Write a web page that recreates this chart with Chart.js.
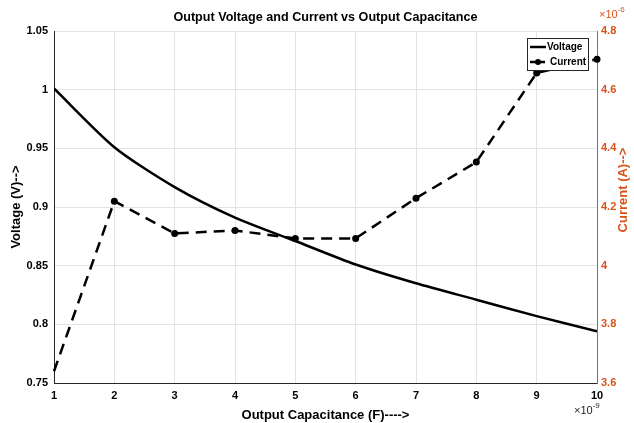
<!DOCTYPE html>
<html>
<head>
<meta charset="utf-8">
<script src="https://cdn.jsdelivr.net/npm/chart.js@4"></script>
<style>
  html, body { margin: 0; padding: 0; background: #fff; }
  #wrap { width: 634px; height: 423px; }
</style>
</head>
<body>
<div id="wrap"><canvas id="chart"></canvas></div>
<script>
// Capacitance in units of 1e-9 F
const capacitance = [1, 2, 3, 4, 5, 6, 7, 8, 9, 10];
// Output voltage (V)
const voltage = [1.001, 0.951, 0.917, 0.891, 0.871, 0.851, 0.835, 0.821, 0.807, 0.794];
// Output current in units of 1e-6 A
const current = [3.64, 4.22, 4.11, 4.12, 4.093, 4.093, 4.23, 4.353, 4.657, 4.704];

const xTicks = [1, 2, 3, 4, 5, 6, 7, 8, 9, 10];
const voltageTicks = [0.75, 0.8, 0.85, 0.9, 0.95, 1, 1.05];
const currentTicks = [3.6, 3.8, 4, 4.2, 4.4, 4.6, 4.8];

const ORANGE = '#D95319';
const FONT = 'Liberation Sans, Arial, sans-serif';

// title, right axis title, exponent labels and inset legend
const decorations = {
  id: 'decorations',
  afterDraw(chart) {
    const { ctx, chartArea: a } = chart;
    ctx.save();
    ctx.fillStyle = '#000';
    ctx.font = 'bold 12.6px ' + FONT;
    ctx.textAlign = 'center';
    ctx.textBaseline = 'middle';
    ctx.fillText('Output Voltage and Current vs Output Capacitance', (a.left + a.right) / 2, 18);

    // right axis title reads bottom to top, like MATLAB
    ctx.save();
    ctx.translate(623, 190);
    ctx.rotate(-Math.PI / 2);
    ctx.font = 'bold 13px ' + FONT;
    ctx.fillStyle = ORANGE;
    ctx.fillText('Current (A)-->', 0, 0);
    ctx.restore();

    const drawExp = (x, y, e, color) => {
      ctx.fillStyle = color;
      ctx.textAlign = 'left';
      ctx.textBaseline = 'middle';
      ctx.font = '11px ' + FONT;
      ctx.fillText('\u00d710', x, y);
      const w = ctx.measureText('\u00d710').width;
      ctx.font = '8px ' + FONT;
      ctx.fillText(e, x + w, y - 5);
    };
    drawExp(a.right - 23, 411, '-9', '#262626');
    drawExp(a.right + 2, 15, '-6', ORANGE);

    // legend box
    const lx = 527, ly = 38, lw = 61, lh = 32;
    ctx.fillStyle = '#fff';
    ctx.fillRect(lx, ly, lw, lh);
    ctx.strokeStyle = '#262626';
    ctx.lineWidth = 1;
    ctx.strokeRect(lx + 0.5, ly + 0.5, lw, lh);
    ctx.font = 'bold 10px ' + FONT;
    ctx.fillStyle = '#000';
    ctx.textAlign = 'left';
    ctx.strokeStyle = '#000';
    ctx.lineWidth = 2.5;
    ctx.beginPath();
    ctx.moveTo(lx + 3, ly + 9);
    ctx.lineTo(lx + 19, ly + 9);
    ctx.stroke();
    ctx.fillText('Voltage', lx + 20, ly + 9);
    ctx.beginPath();
    ctx.moveTo(lx + 3, ly + 24);
    ctx.lineTo(lx + 9, ly + 24);
    ctx.moveTo(lx + 12, ly + 24);
    ctx.lineTo(lx + 18, ly + 24);
    ctx.stroke();
    ctx.beginPath();
    ctx.arc(lx + 11, ly + 24, 3, 0, Math.PI * 2);
    ctx.fill();
    ctx.fillText('Current', lx + 23, ly + 24);
    ctx.restore();
  }
};

const fmt = v => String(+Number(v).toFixed(2));

new Chart(document.getElementById('chart'), {
  type: 'line',
  data: {
    datasets: [{
      label: 'Voltage',
      data: capacitance.map((c, i) => ({ x: c, y: voltage[i] })),
      yAxisID: 'y',
      borderColor: '#000',
      borderWidth: 2.5,
      pointRadius: 0,
      tension: 0.25,
      fill: false
    }, {
      label: 'Current',
      data: capacitance.map((c, i) => ({ x: c, y: current[i] })),
      yAxisID: 'y1',
      borderColor: '#000',
      backgroundColor: '#000',
      borderWidth: 2.5,
      borderDash: [11, 7],
      pointRadius: ctx => ctx.dataIndex === 0 ? 0 : 3.5,
      pointBackgroundColor: '#000',
      pointBorderWidth: 0,
      tension: 0,
      clip: 6,
      fill: false
    }]
  },
  options: {
    responsive: true,
    maintainAspectRatio: false,
    animation: false,
    layout: { padding: { top: 31, left: 0, right: 0, bottom: 0 } },
    plugins: {
      legend: { display: false },
      title: { display: false },
      tooltip: { enabled: false }
    },
    scales: {
      x: {
        type: 'linear',
        min: 1,
        max: 10,
        afterBuildTicks: axis => { axis.ticks = xTicks.map(v => ({ value: v })); },
        afterFit: axis => { axis.height = 40; },
        ticks: { font: { family: FONT, size: 11, weight: 'bold' }, color: '#000', padding: 6, maxRotation: 0 },
        grid: { color: '#e3e3e3', drawTicks: false },
        border: { color: '#262626' },
        title: { display: true, text: 'Output Capacitance (F)---->', font: { family: FONT, size: 13, weight: 'bold' }, color: '#000', padding: { top: 1, bottom: 0 } }
      },
      y: {
        position: 'left',
        min: 0.75,
        max: 1.05,
        afterBuildTicks: axis => { axis.ticks = voltageTicks.map(v => ({ value: v })); },
        afterFit: axis => { axis.width = 54; },
        ticks: { font: { family: FONT, size: 11, weight: 'bold' }, color: '#000', padding: 6, callback: fmt },
        grid: { color: '#e3e3e3', drawTicks: false },
        border: { color: '#262626' },
        title: { display: true, text: 'Voltage (V)-->', font: { family: FONT, size: 13, weight: 'bold' }, color: '#000', padding: { top: 9, bottom: 0 } }
      },
      y1: {
        position: 'right',
        min: 3.6,
        max: 4.8,
        afterBuildTicks: axis => { axis.ticks = currentTicks.map(v => ({ value: v })); },
        afterFit: axis => { axis.width = 37; },
        ticks: { font: { family: FONT, size: 11, weight: 'bold' }, color: ORANGE, padding: 4, callback: fmt },
        grid: { display: false, drawTicks: false },
        border: { color: ORANGE },
        title: { display: false }
      }
    }
  },
  plugins: [decorations]
});
</script>
</body>
</html>
